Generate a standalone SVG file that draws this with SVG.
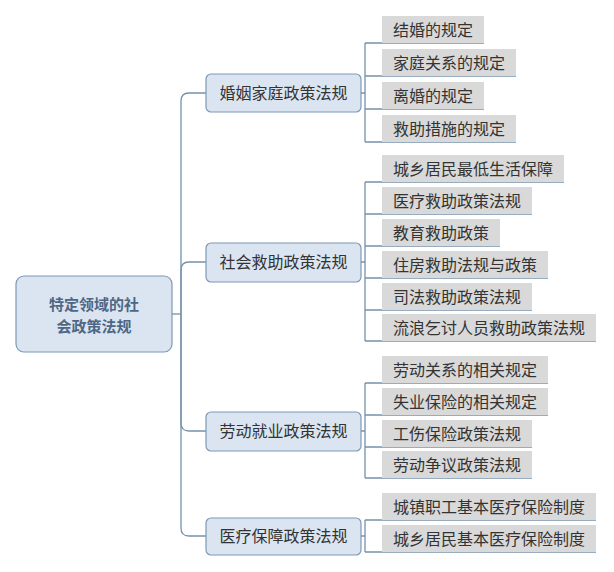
<svg xmlns="http://www.w3.org/2000/svg" width="614" height="572" viewBox="0 0 614 572">
<style>
.bg{fill:#ffffff}
.con{fill:none;stroke:#7592aa;stroke-width:1.3}
.root{fill:#dbe5f1;stroke:#7e98b5;stroke-width:1.2}
.l1{fill:#dbe5f1;stroke:#7e98b5;stroke-width:1.2}
.leaf{fill:#d9d9d9}
.t{font-family:"Microsoft YaHei","Noto Sans CJK SC","Noto Sans",sans-serif;font-size:16px;fill:#333333}
.tr{font-family:"Microsoft YaHei","Noto Sans CJK SC","Noto Sans",sans-serif;font-size:15px;font-weight:bold;fill:#4d6785}
.c{text-anchor:middle}
</style>
<rect class="bg" x="0" y="0" width="614" height="572"/>
<g id="connectors">
  <path class="con" d="M172 314H181"/>
  <path class="con" d="M181 314V101Q181 93 189 93H206"/>
  <path class="con" d="M181 314V270Q181 262 189 262H206"/>
  <path class="con" d="M181 314V423Q181 431 189 431H206"/>
  <path class="con" d="M181 314V528Q181 536 189 536H206"/>
  <path class="con" d="M361 93H365M365 43V142"/>
  <path class="con" d="M361 262H365M365 182V341"/>
  <path class="con" d="M361 431H365M365 383V478"/>
  <path class="con" d="M361 536H365M365 520V552"/>
  <path class="con" d="M365 43H484M365 76H516M365 109H484M365 142H516"/>
  <path class="con" d="M365 182H564M365 214H532M365 246H500M365 278H548M365 310H532M365 341H596"/>
  <path class="con" d="M365 383H548M365 415H548M365 447H532M365 478H532"/>
  <path class="con" d="M365 520H596M365 552H596"/>
</g>
<g id="root">
  <rect class="root" x="16" y="276" width="156" height="76" rx="8"/>
  <text class="tr c" x="94" y="309.5">特定领域的社</text>
  <text class="tr c" x="94" y="331.5">会政策法规</text>
</g>
<g id="n1">
  <rect class="l1" x="206" y="74" width="155" height="38" rx="5"/>
  <text class="t c" x="283.5" y="99">婚姻家庭政策法规</text>
</g>
<g id="n2">
  <rect class="l1" x="206" y="243" width="155" height="39" rx="5"/>
  <text class="t c" x="283.5" y="268">社会救助政策法规</text>
</g>
<g id="n3">
  <rect class="l1" x="206" y="412" width="155" height="39" rx="5"/>
  <text class="t c" x="283.5" y="437">劳动就业政策法规</text>
</g>
<g id="n4">
  <rect class="l1" x="206" y="518" width="155" height="37" rx="5"/>
  <text class="t c" x="283.5" y="542">医疗保障政策法规</text>
</g>
<g id="leaf1"><rect class="leaf" x="382" y="16" width="102" height="27"/><text class="t" x="393" y="36">结婚的规定</text></g>
<g id="leaf2"><rect class="leaf" x="382" y="49" width="134" height="27"/><text class="t" x="393" y="69">家庭关系的规定</text></g>
<g id="leaf3"><rect class="leaf" x="382" y="82" width="102" height="27"/><text class="t" x="393" y="102">离婚的规定</text></g>
<g id="leaf4"><rect class="leaf" x="382" y="115" width="134" height="27"/><text class="t" x="393" y="135">救助措施的规定</text></g>
<g id="leaf5"><rect class="leaf" x="382" y="155" width="182" height="27"/><text class="t" x="393" y="175">城乡居民最低生活保障</text></g>
<g id="leaf6"><rect class="leaf" x="382" y="187" width="150" height="27"/><text class="t" x="393" y="207">医疗救助政策法规</text></g>
<g id="leaf7"><rect class="leaf" x="382" y="219" width="118" height="27"/><text class="t" x="393" y="239">教育救助政策</text></g>
<g id="leaf8"><rect class="leaf" x="382" y="251" width="166" height="27"/><text class="t" x="393" y="271">住房救助法规与政策</text></g>
<g id="leaf9"><rect class="leaf" x="382" y="283" width="150" height="27"/><text class="t" x="393" y="303">司法救助政策法规</text></g>
<g id="leaf10"><rect class="leaf" x="382" y="314" width="214" height="27"/><text class="t" x="393" y="334">流浪乞讨人员救助政策法规</text></g>
<g id="leaf11"><rect class="leaf" x="382" y="356" width="166" height="27"/><text class="t" x="393" y="376">劳动关系的相关规定</text></g>
<g id="leaf12"><rect class="leaf" x="382" y="388" width="166" height="27"/><text class="t" x="393" y="408">失业保险的相关规定</text></g>
<g id="leaf13"><rect class="leaf" x="382" y="420" width="150" height="27"/><text class="t" x="393" y="440">工伤保险政策法规</text></g>
<g id="leaf14"><rect class="leaf" x="382" y="451" width="150" height="27"/><text class="t" x="393" y="471">劳动争议政策法规</text></g>
<g id="leaf15"><rect class="leaf" x="382" y="493" width="214" height="27"/><text class="t" x="393" y="513">城镇职工基本医疗保险制度</text></g>
<g id="leaf16"><rect class="leaf" x="382" y="525" width="214" height="27"/><text class="t" x="393" y="545">城乡居民基本医疗保险制度</text></g>
</svg>
